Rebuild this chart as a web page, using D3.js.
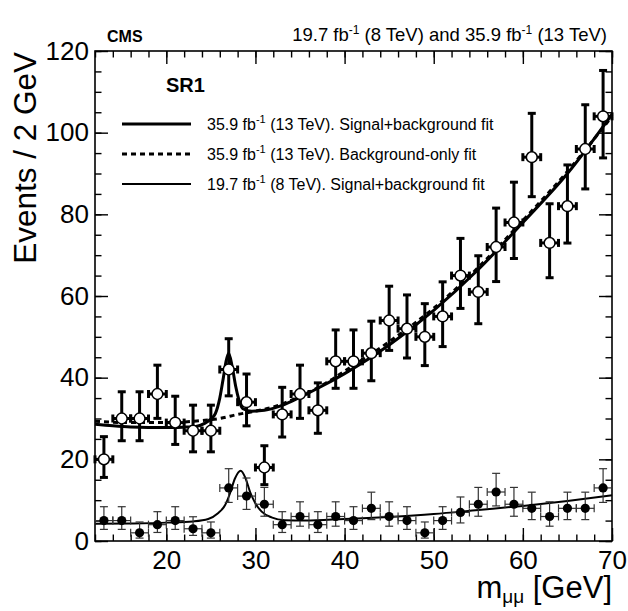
<!DOCTYPE html>
<html>
<head>
<meta charset="utf-8">
<script src="https://cdn.jsdelivr.net/npm/d3@7"></script>
<style>
  body { margin: 0; background: #fff; }
  text { font-family: "Liberation Sans", Arial, sans-serif; fill: #000; }
</style>
</head>
<body>
<div id="chart"></div>
<script>
// bin centres (2 GeV bins)
const massBins = [13, 15, 17, 19, 21, 23, 25, 27, 29, 31, 33, 35, 37, 39, 41, 43, 45, 47, 49, 51, 53, 55, 57, 59, 61, 63, 65, 67, 69];
// 35.9 fb-1 (13 TeV) observed events
const counts13 = [20, 30, 30, 36, 29, 27, 27, 42, 34, 18, 31, 36, 32, 44, 44, 46, 54, 52, 50, 55, 65, 61, 72, 78, 94, 73, 82, 96, 104];
// 19.7 fb-1 (8 TeV) observed events
const counts8 = [5, 5, 2, 4, 5, 3, 2, 13, 11, 9, 4, 6, 4, 6, 5, 8, 6, 5, 2, 5, 7, 9, 12, 9, 8, 6, 8, 8, 13];

// fit curves
const sb13Mass = [12, 14, 16, 18, 20, 22, 23.2, 24.3, 24.9, 25.5, 26, 26.4, 26.7, 27, 27.4, 27.8, 28.1, 28.6, 29.6, 31, 33, 35, 37, 40, 45, 50, 55, 60, 65, 70];
const sb13Val = [28.6, 28.2, 27.9, 27.8, 27.8, 27.9, 28.0, 28.8, 29.7, 31.2, 35.0, 40.0, 44.0, 46.0, 42.6, 37.7, 34.9, 32.4, 31.8, 32.0, 33.2, 35.2, 37.4, 41.0, 48.0, 56.5, 66.5, 78.0, 90.0, 104.5];
const b13Mass = [12, 16, 20, 24, 26, 28, 30, 32, 35, 38, 40, 45, 50, 55, 60, 65, 70];
const b13Val = [29.3, 29.0, 29.0, 29.5, 30.0, 31.0, 31.8, 32.8, 35.4, 38.8, 41.6, 48.8, 57.0, 67.0, 78.5, 90.5, 104.0];
const sb8Mass = [12, 16, 20, 23, 24.7, 25.8, 26.6, 27.15, 27.7, 28.35, 28.9, 29.4, 30, 30.7, 31.8, 33.3, 35.6, 40, 45, 50, 55, 60, 65, 70];
const sb8Val = [4.2, 4.3, 4.5, 4.8, 5.4, 6.8, 8.8, 11.7, 15.3, 17.2, 15.3, 12.0, 9.2, 7.2, 5.8, 5.1, 5.0, 5.4, 5.9, 6.6, 7.6, 8.6, 9.8, 11.2];

const xTicks = [20, 30, 40, 50, 60, 70];
const xMinor = d3.range(12, 71, 2);
const yTicks = [0, 20, 40, 60, 80, 100, 120];
const yMinor = d3.range(0, 121, 5);

const legendLabels = [
    ["35.9 fb", "-1", " (13 TeV). Signal+background fit"],
    ["35.9 fb", "-1", " (13 TeV). Background-only fit"],
    ["19.7 fb", "-1", " (8 TeV). Signal+background fit"]
];

const W = 628, H = 611;
const frame = { left: 95, right: 612, top: 51, bottom: 541 };

const svg = d3.select("#chart").append("svg")
    .attr("width", W)
    .attr("height", H);

const x = d3.scaleLinear().domain([12, 70]).range([frame.left, frame.right]);
const y = d3.scaleLinear().domain([0, 120]).range([frame.bottom, frame.top]);

// Poisson (Gehrels) error bars from the counts
const errUp = n => n + Math.sqrt(n + 0.75) + 1;
const errDn = n => n * Math.pow(1 - 1 / (9 * n) - 1 / (3 * Math.sqrt(n)), 3);

// axes, ticks pointing inwards on all four sides
function tickAxis(axis, transform, size, values, labels) {
    const g = svg.append("g")
        .attr("transform", transform)
        .call(axis.tickValues(values).tickSize(size).tickPadding(10)
            .tickFormat(labels ? d3.format("d") : ""));
    g.select(".domain").remove();
    g.selectAll(".tick line").attr("stroke", "#000").attr("stroke-width", 1.4);
    g.selectAll(".tick text").style("font-size", "26px").attr("fill", "#000");
    return g;
}

tickAxis(d3.axisBottom(x), `translate(0,${frame.bottom})`, -13, xTicks, true)
    .selectAll(".tick text").attr("y", 10);
tickAxis(d3.axisBottom(x), `translate(0,${frame.bottom})`, -6.5, xMinor, false);
tickAxis(d3.axisTop(x), `translate(0,${frame.top})`, -13, xTicks, false);
tickAxis(d3.axisTop(x), `translate(0,${frame.top})`, -6.5, xMinor, false);
tickAxis(d3.axisLeft(y), `translate(${frame.left},0)`, -13, yTicks, true)
    .selectAll(".tick text").attr("x", -6);
tickAxis(d3.axisLeft(y), `translate(${frame.left},0)`, -6.5, yMinor, false);
tickAxis(d3.axisRight(y), `translate(${frame.right},0)`, -13, yTicks, false);
tickAxis(d3.axisRight(y), `translate(${frame.right},0)`, -6.5, yMinor, false);

svg.append("rect")
    .attr("x", frame.left).attr("y", frame.top)
    .attr("width", frame.right - frame.left).attr("height", frame.bottom - frame.top)
    .attr("fill", "none").attr("stroke", "#000").attr("stroke-width", 1.6);

// fit curves
const line = d3.line()
    .x(d => x(d[0]))
    .y(d => y(d[1]))
    .curve(d3.curveMonotoneX);

svg.append("path")
    .datum(d3.zip(b13Mass, b13Val))
    .attr("d", line)
    .attr("fill", "none").attr("stroke", "#000")
    .attr("stroke-width", 3).attr("stroke-dasharray", "5,4");

svg.append("path")
    .datum(d3.zip(sb13Mass, sb13Val))
    .attr("d", line)
    .attr("fill", "none").attr("stroke", "#000").attr("stroke-width", 3);

svg.append("path")
    .datum(d3.zip(sb8Mass, sb8Val))
    .attr("d", line)
    .attr("fill", "none").attr("stroke", "#000").attr("stroke-width", 2);

// data points with error bars
function drawPoints(counts, opts) {
    const g = svg.append("g");
    const pts = g.selectAll("g").data(d3.zip(massBins, counts)).enter().append("g");
    const st = sel => sel.attr("stroke", opts.color).attr("stroke-width", opts.width);
    const cap = opts.cap;
    // vertical bar
    st(pts.append("line")
        .attr("x1", d => x(d[0])).attr("x2", d => x(d[0]))
        .attr("y1", d => y(errDn(d[1]))).attr("y2", d => y(errUp(d[1]))));
    st(pts.append("line")
        .attr("x1", d => x(d[0]) - cap).attr("x2", d => x(d[0]) + cap)
        .attr("y1", d => y(errUp(d[1]))).attr("y2", d => y(errUp(d[1]))));
    st(pts.append("line")
        .attr("x1", d => x(d[0]) - cap).attr("x2", d => x(d[0]) + cap)
        .attr("y1", d => y(errDn(d[1]))).attr("y2", d => y(errDn(d[1]))));
    // horizontal bar (bin width)
    st(pts.append("line")
        .attr("x1", d => x(d[0] - 1)).attr("x2", d => x(d[0] + 1))
        .attr("y1", d => y(d[1])).attr("y2", d => y(d[1])));
    st(pts.append("line")
        .attr("x1", d => x(d[0] - 1)).attr("x2", d => x(d[0] - 1))
        .attr("y1", d => y(d[1]) - cap).attr("y2", d => y(d[1]) + cap));
    st(pts.append("line")
        .attr("x1", d => x(d[0] + 1)).attr("x2", d => x(d[0] + 1))
        .attr("y1", d => y(d[1]) - cap).attr("y2", d => y(d[1]) + cap));
    pts.append("circle")
        .attr("cx", d => x(d[0])).attr("cy", d => y(d[1]))
        .attr("r", opts.r)
        .attr("fill", opts.fill)
        .attr("stroke", "#000").attr("stroke-width", opts.open ? 1.5 : 0);
}

drawPoints(counts8, { color: "#333", width: 1.2, cap: 4, r: 4.6, fill: "#000", open: false });
drawPoints(counts13, { color: "#000", width: 3, cap: 4, r: 5.4, fill: "#fff", open: true });

// legend
const legendY = [124, 154, 184];
const legendStyle = [
    { w: 3, dash: null },
    { w: 3, dash: "5,4" },
    { w: 2, dash: null }
];
legendLabels.forEach((lab, i) => {
    svg.append("line")
        .attr("x1", 122).attr("x2", 191)
        .attr("y1", legendY[i]).attr("y2", legendY[i])
        .attr("stroke", "#000").attr("stroke-width", legendStyle[i].w)
        .attr("stroke-dasharray", legendStyle[i].dash);
    const t = svg.append("text")
        .attr("x", 207).attr("y", legendY[i] + 5.5)
        .style("font-size", "16px");
    t.append("tspan").text(lab[0]);
    t.append("tspan").attr("dy", -7).style("font-size", "11px").text(lab[1]);
    t.append("tspan").attr("dy", 7).text(lab[2]);
});

// labels
svg.append("text")
    .attr("x", 107).attr("y", 42)
    .style("font-size", "16px").style("font-weight", "bold")
    .text("CMS");

svg.append("text")
    .attr("x", 166).attr("y", 92)
    .style("font-size", "20px").style("font-weight", "bold")
    .text("SR1");

const lumi = svg.append("text")
    .attr("x", 607).attr("y", 41)
    .attr("text-anchor", "end")
    .style("font-size", "18.5px");
lumi.append("tspan").text("19.7 fb");
lumi.append("tspan").attr("dy", -7).style("font-size", "12px").text("-1");
lumi.append("tspan").attr("dy", 7).text(" (8 TeV) and 35.9 fb");
lumi.append("tspan").attr("dy", -7).style("font-size", "12px").text("-1");
lumi.append("tspan").attr("dy", 7).text(" (13 TeV)");

svg.append("text")
    .attr("transform", "rotate(-90)")
    .attr("x", -52).attr("y", 36)
    .attr("text-anchor", "end")
    .style("font-size", "31.5px")
    .text("Events / 2 GeV");

const xt = svg.append("text")
    .attr("x", 612).attr("y", 598)
    .attr("text-anchor", "end")
    .style("font-size", "31px");
xt.append("tspan").text("m");
xt.append("tspan").attr("dy", 5).style("font-size", "19px").text("μμ");
xt.append("tspan").attr("dy", -5).text(" [GeV]");
</script>
</body>
</html>
